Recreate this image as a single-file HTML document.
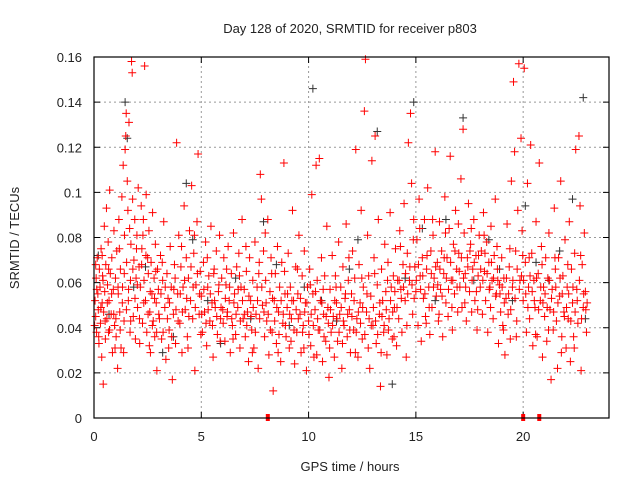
<!DOCTYPE html>
<html><head><meta charset="utf-8"><style>
body{margin:0;background:#fff;}
svg{display:block;font-family:"Liberation Sans",sans-serif;}
</style></head><body>
<svg id="chart" width="640" height="480">
<text x="350" y="33" font-size="13" text-anchor="middle" fill="#222">Day 128 of 2020, SRMTID for receiver p803</text>
<text x="350" y="471" font-size="13" text-anchor="middle" fill="#222">GPS time / hours</text>
<text transform="translate(19,238) rotate(-90)" font-size="13" text-anchor="middle" fill="#222">SRMTID / TECUs</text>
<g id="grid"></g>
<g id="ticks"></g>
<g id="pts"></g>
<rect x="94" y="57" width="515" height="361" fill="none" stroke="#000" stroke-width="1.2"/>
</svg>
<script>
const xTicks=[0,5,10,15,20];
const yTicks=[0,0.02,0.04,0.06,0.08,0.1,0.12,0.14,0.16];
const yTickLabels=["0","0.02","0.04","0.06","0.08","0.1","0.12","0.14","0.16"];
const gapMarks=[8.1,20.0,20.75];
const redPoints=[
[0.05,0.052],[0.08,0.045],[0.1,0.062],[0.12,0.038],[0.15,0.071],[0.18,0.055],[0.2,0.048],[0.23,0.033],[0.25,0.066],[0.28,0.058],[0.3,0.042],[0.33,0.075],[0.36,0.027],[0.38,0.051],[0.4,0.063],[0.43,0.015],[0.45,0.047],[0.48,0.085],[0.5,0.056],[0.53,0.035],[0.55,0.068],[0.58,0.093],[0.6,0.044],[0.63,0.059],[0.66,0.078],[0.68,0.038],[0.7,0.052],[0.73,0.101],[0.76,0.064],[0.8,0.046],[0.83,0.071],[0.86,0.029],[0.9,0.057],[0.93,0.083],[0.96,0.041],
[1.0,0.062],[1.03,0.036],[1.06,0.074],[1.1,0.022],[1.13,0.055],[1.16,0.088],[1.2,0.047],[1.23,0.066],[1.26,0.031],[1.3,0.098],[1.33,0.058],[1.36,0.112],[1.4,0.043],[1.42,0.081],[1.45,0.119],[1.48,0.125],[1.5,0.135],[1.52,0.069],[1.55,0.105],[1.58,0.092],[1.6,0.052],[1.63,0.131],[1.66,0.084],[1.7,0.061],[1.72,0.077],[1.75,0.158],[1.78,0.153],[1.8,0.097],[1.83,0.045],[1.86,0.07],[1.9,0.088],[1.93,0.035],[1.96,0.062],
[2.0,0.081],[2.03,0.049],[2.06,0.102],[2.1,0.067],[2.13,0.033],[2.16,0.058],[2.2,0.094],[2.23,0.075],[2.26,0.042],[2.3,0.088],[2.33,0.061],[2.36,0.156],[2.4,0.052],[2.43,0.099],[2.46,0.038],[2.5,0.071],[2.53,0.064],[2.56,0.083],[2.6,0.047],[2.63,0.029],[2.66,0.069],[2.7,0.055],[2.73,0.091],[2.76,0.043],[2.8,0.062],[2.83,0.036],[2.86,0.077],[2.9,0.051],[2.93,0.021],[2.96,0.066],
[3.0,0.057],[3.05,0.044],[3.1,0.072],[3.15,0.035],[3.2,0.061],[3.25,0.087],[3.3,0.049],[3.35,0.026],[3.4,0.064],[3.45,0.053],[3.5,0.039],[3.55,0.076],[3.6,0.058],[3.65,0.017],[3.7,0.046],[3.75,0.068],[3.8,0.033],[3.85,0.122],[3.9,0.055],[3.95,0.081],
[4.0,0.042],[4.05,0.067],[4.1,0.029],[4.15,0.058],[4.2,0.094],[4.25,0.048],[4.3,0.071],[4.35,0.036],[4.4,0.062],[4.45,0.083],[4.5,0.052],[4.55,0.103],[4.6,0.044],[4.65,0.073],[4.7,0.021],[4.75,0.059],[4.8,0.087],[4.85,0.117],[4.9,0.046],[4.95,0.065],
[5.0,0.054],[5.05,0.038],[5.1,0.069],[5.15,0.047],[5.2,0.078],[5.25,0.032],[5.3,0.058],[5.35,0.063],[5.4,0.043],[5.45,0.085],[5.5,0.051],[5.55,0.027],[5.6,0.066],[5.65,0.049],[5.7,0.074],[5.75,0.037],[5.8,0.056],[5.85,0.081],[5.9,0.044],[5.95,0.062],
[6.0,0.048],[6.05,0.071],[6.1,0.034],[6.15,0.059],[6.2,0.045],[6.25,0.076],[6.3,0.052],[6.35,0.029],[6.4,0.064],[6.45,0.041],[6.5,0.082],[6.55,0.055],[6.6,0.037],[6.65,0.067],[6.7,0.049],[6.75,0.073],[6.8,0.031],[6.85,0.058],[6.9,0.088],[6.95,0.044],
[7.0,0.057],[7.05,0.036],[7.1,0.065],[7.15,0.047],[7.2,0.025],[7.25,0.071],[7.3,0.052],[7.35,0.039],[7.4,0.061],[7.45,0.031],[7.5,0.078],[7.55,0.046],[7.6,0.058],[7.65,0.022],[7.7,0.069],[7.75,0.108],[7.8,0.097],[7.85,0.05],[7.9,0.074],[7.95,0.036],
[8.0,0.061],[8.05,0.043],[8.1,0.088],[8.15,0.028],[8.2,0.056],[8.25,0.071],[8.3,0.038],[8.35,0.012],[8.4,0.052],[8.45,0.064],[8.5,0.033],[8.55,0.076],[8.6,0.047],[8.65,0.058],[8.7,0.025],[8.75,0.069],[8.8,0.042],[8.85,0.113],[8.9,0.055],[8.95,0.036],
[9.0,0.049],[9.05,0.073],[9.1,0.031],[9.15,0.058],[9.2,0.044],[9.25,0.092],[9.3,0.052],[9.35,0.024],[9.4,0.067],[9.45,0.038],[9.5,0.055],[9.55,0.081],[9.6,0.046],[9.65,0.029],[9.7,0.063],[9.75,0.041],[9.8,0.074],[9.85,0.051],[9.9,0.021],[9.95,0.058],
[10.0,0.043],[10.05,0.066],[10.1,0.032],[10.15,0.099],[10.2,0.055],[10.25,0.027],[10.3,0.048],[10.35,0.112],[10.4,0.061],[10.45,0.039],[10.5,0.115],[10.55,0.052],[10.6,0.071],[10.65,0.025],[10.7,0.046],[10.75,0.063],[10.8,0.034],[10.85,0.085],[10.9,0.049],[10.95,0.018],
[11.0,0.057],[11.05,0.038],[11.1,0.072],[11.15,0.045],[11.2,0.027],[11.25,0.063],[11.3,0.051],[11.35,0.034],[11.4,0.078],[11.45,0.046],[11.5,0.058],[11.55,0.022],[11.6,0.067],[11.65,0.041],[11.7,0.053],[11.75,0.086],[11.8,0.036],[11.85,0.061],[11.9,0.048],[11.95,0.029],
[12.0,0.055],[12.05,0.074],[12.1,0.039],[12.15,0.062],[12.2,0.119],[12.25,0.044],[12.3,0.027],[12.35,0.068],[12.4,0.051],[12.45,0.092],[12.5,0.035],[12.55,0.058],[12.6,0.136],[12.65,0.159],[12.7,0.047],[12.75,0.081],[12.8,0.063],[12.85,0.022],[12.9,0.054],[12.95,0.114],
[13.0,0.041],[13.05,0.071],[13.1,0.125],[13.15,0.033],[13.2,0.059],[13.25,0.088],[13.3,0.046],[13.35,0.014],[13.4,0.066],[13.45,0.052],[13.5,0.038],[13.55,0.077],[13.6,0.056],[13.65,0.028],[13.7,0.069],[13.75,0.044],[13.8,0.091],[13.85,0.058],[13.9,0.035],[13.95,0.063],
[14.0,0.049],[14.05,0.075],[14.1,0.032],[14.15,0.061],[14.2,0.044],[14.25,0.083],[14.3,0.057],[14.35,0.038],[14.4,0.068],[14.45,0.095],[14.5,0.052],[14.55,0.027],[14.6,0.073],[14.65,0.122],[14.7,0.061],[14.75,0.135],[14.8,0.104],[14.85,0.046],[14.9,0.088],[14.95,0.067],
[15.0,0.056],[15.05,0.079],[15.1,0.041],[15.15,0.097],[15.2,0.063],[15.25,0.034],[15.3,0.071],[15.35,0.053],[15.4,0.088],[15.45,0.045],[15.5,0.066],[15.55,0.102],[15.6,0.058],[15.65,0.037],[15.7,0.074],[15.75,0.049],[15.8,0.081],[15.85,0.062],[15.9,0.118],[15.95,0.054],
[16.0,0.069],[16.05,0.043],[16.1,0.087],[16.15,0.057],[16.2,0.074],[16.25,0.036],[16.3,0.064],[16.35,0.098],[16.4,0.051],[16.45,0.071],[16.5,0.045],[16.55,0.084],[16.6,0.116],[16.65,0.061],[16.7,0.039],[16.75,0.077],[16.8,0.055],[16.85,0.092],[16.9,0.066],[16.95,0.047],
[17.0,0.073],[17.05,0.058],[17.1,0.106],[17.15,0.049],[17.2,0.128],[17.25,0.082],[17.3,0.064],[17.35,0.043],[17.4,0.071],[17.45,0.095],[17.5,0.056],[17.55,0.077],[17.6,0.047],[17.65,0.066],[17.7,0.088],[17.75,0.052],[17.8,0.072],[17.85,0.039],[17.9,0.063],[17.95,0.081],
[18.0,0.058],[18.05,0.074],[18.1,0.046],[18.15,0.091],[18.2,0.065],[18.25,0.052],[18.3,0.078],[18.35,0.038],[18.4,0.069],[18.45,0.058],[18.5,0.085],[18.55,0.061],[18.6,0.044],[18.65,0.072],[18.7,0.097],[18.75,0.055],[18.8,0.066],[18.85,0.033],[18.9,0.059],[18.95,0.047],
[19.0,0.071],[19.05,0.041],[19.1,0.062],[19.15,0.028],[19.2,0.053],[19.25,0.086],[19.3,0.046],[19.35,0.067],[19.4,0.035],[19.45,0.105],[19.5,0.058],[19.55,0.149],[19.6,0.118],[19.65,0.074],[19.7,0.043],[19.75,0.092],[19.8,0.157],[19.85,0.061],[19.9,0.124],[19.95,0.083],
[20.0,0.052],[20.05,0.155],[20.1,0.069],[20.15,0.038],[20.2,0.104],[20.25,0.058],[20.3,0.044],[20.35,0.121],[20.4,0.073],[20.45,0.032],[20.5,0.061],[20.55,0.049],[20.6,0.087],[20.65,0.036],[20.7,0.064],[20.75,0.113],[20.8,0.052],[20.85,0.076],[20.9,0.027],[20.95,0.058],
[21.0,0.045],[21.05,0.071],[21.1,0.034],[21.15,0.062],[21.2,0.082],[21.25,0.048],[21.3,0.017],[21.35,0.057],[21.4,0.039],[21.45,0.093],[21.5,0.066],[21.55,0.043],[21.6,0.022],[21.65,0.071],[21.7,0.054],[21.75,0.105],[21.8,0.036],[21.85,0.063],[21.9,0.047],[21.95,0.079],
[22.0,0.031],[22.05,0.058],[22.1,0.044],[22.15,0.087],[22.2,0.025],[22.25,0.066],[22.3,0.051],[22.35,0.036],[22.4,0.073],[22.45,0.119],[22.5,0.057],[22.55,0.042],[22.6,0.125],[22.65,0.094],[22.7,0.021],[22.75,0.068],[22.8,0.049],[22.85,0.082],[22.9,0.056],[22.95,0.038]
];
const redPointsDense=[
[0.03,0.041],[0.13,0.057],[0.22,0.036],[0.32,0.049],[0.42,0.061],[0.52,0.043],[0.62,0.051],[0.72,0.039],[0.82,0.055],[0.92,0.046],
[1.02,0.044],[1.12,0.058],[1.22,0.039],[1.32,0.051],[1.41,0.064],[1.51,0.048],[1.61,0.057],[1.71,0.043],[1.81,0.066],[1.91,0.053],
[2.02,0.059],[2.12,0.044],[2.22,0.068],[2.32,0.051],[2.42,0.072],[2.52,0.046],[2.62,0.056],[2.72,0.041],[2.82,0.053],[2.92,0.038],
[3.02,0.046],[3.12,0.055],[3.22,0.038],[3.32,0.058],[3.42,0.044],[3.52,0.051],[3.62,0.036],[3.72,0.057],[3.82,0.048],[3.92,0.043],
[4.02,0.055],[4.12,0.047],[4.22,0.061],[4.32,0.053],[4.42,0.045],[4.52,0.067],[4.62,0.058],[4.72,0.049],[4.82,0.064],[4.92,0.055],
[5.02,0.046],[5.12,0.057],[5.22,0.042],[5.32,0.048],[5.42,0.055],[5.52,0.041],[5.62,0.052],[5.72,0.045],[5.82,0.059],[5.92,0.049],
[6.02,0.042],[6.12,0.053],[6.22,0.047],[6.32,0.058],[6.42,0.044],[6.52,0.051],[6.62,0.046],[6.72,0.057],[6.82,0.043],[6.92,0.052],
[7.02,0.046],[7.12,0.041],[7.22,0.054],[7.32,0.045],[7.42,0.049],[7.52,0.038],[7.62,0.052],[7.72,0.044],[7.82,0.058],[7.92,0.047],
[8.02,0.051],[8.12,0.046],[8.22,0.039],[8.32,0.053],[8.42,0.043],[8.52,0.049],[8.62,0.037],[8.72,0.052],[8.82,0.046],[8.92,0.041],
[9.02,0.055],[9.12,0.046],[9.22,0.052],[9.32,0.039],[9.42,0.048],[9.52,0.044],[9.62,0.053],[9.72,0.038],[9.82,0.047],[9.92,0.051],
[10.02,0.037],[10.12,0.046],[10.22,0.041],[10.32,0.056],[10.42,0.044],[10.52,0.039],[10.62,0.051],[10.72,0.036],[10.82,0.045],[10.92,0.042],
[11.02,0.048],[11.12,0.041],[11.22,0.052],[11.32,0.044],[11.42,0.038],[11.52,0.049],[11.62,0.043],[11.72,0.055],[11.82,0.046],[11.92,0.039],
[12.02,0.045],[12.12,0.052],[12.22,0.038],[12.32,0.047],[12.42,0.042],[12.52,0.049],[12.62,0.037],[12.72,0.055],[12.82,0.044],[12.92,0.041],
[13.02,0.049],[13.12,0.043],[13.22,0.037],[13.32,0.051],[13.42,0.045],[13.52,0.041],[13.62,0.048],[13.72,0.039],[13.82,0.052],[13.92,0.047],
[14.02,0.056],[14.12,0.049],[14.22,0.061],[14.32,0.053],[14.42,0.058],[14.52,0.064],[14.62,0.055],[14.72,0.067],[14.82,0.059],[14.92,0.053],
[15.02,0.061],[15.12,0.068],[15.22,0.057],[15.32,0.063],[15.42,0.055],[15.52,0.072],[15.62,0.049],[15.72,0.064],[15.82,0.058],[15.92,0.067],
[16.02,0.059],[16.12,0.066],[16.22,0.054],[16.32,0.071],[16.42,0.062],[16.52,0.057],[16.62,0.069],[16.72,0.061],[16.82,0.074],[16.92,0.058],
[17.02,0.065],[17.12,0.071],[17.22,0.062],[17.32,0.058],[17.42,0.067],[17.52,0.074],[17.62,0.061],[17.72,0.069],[17.82,0.056],[17.92,0.072],
[18.02,0.066],[18.12,0.061],[18.22,0.073],[18.32,0.064],[18.42,0.057],[18.52,0.069],[18.62,0.062],[18.72,0.054],[18.82,0.061],[18.92,0.055],
[19.02,0.058],[19.12,0.051],[19.22,0.062],[19.32,0.055],[19.42,0.048],[19.52,0.061],[19.62,0.053],[19.72,0.066],[19.82,0.057],[19.92,0.063],
[20.02,0.061],[20.12,0.055],[20.22,0.049],[20.32,0.063],[20.42,0.056],[20.52,0.052],[20.62,0.062],[20.72,0.048],[20.82,0.058],[20.92,0.051],
[21.02,0.055],[21.12,0.049],[21.22,0.061],[21.32,0.053],[21.42,0.047],[21.52,0.058],[21.62,0.051],[21.72,0.062],[21.82,0.055],[21.92,0.045],
[22.02,0.049],[22.12,0.055],[22.22,0.043],[22.32,0.058],[22.42,0.047],[22.52,0.052],[22.62,0.061],[22.72,0.044],[22.82,0.055],[22.92,0.048],
[0.08,0.068],[0.38,0.072],[0.68,0.066],[0.98,0.031],[1.18,0.075],[1.38,0.029],[1.68,0.038],[1.98,0.075],[2.28,0.081],[2.58,0.032],[2.88,0.065],
[3.18,0.069],[3.48,0.031],[3.78,0.062],[4.08,0.076],[4.38,0.031],[4.68,0.081],[4.98,0.037],[5.28,0.071],[5.58,0.064],[5.88,0.034],
[6.18,0.066],[6.48,0.035],[6.78,0.063],[7.08,0.076],[7.38,0.029],[7.68,0.064],[7.98,0.082],[8.28,0.064],[8.58,0.029],[8.88,0.065],
[9.18,0.034],[9.48,0.066],[9.78,0.031],[10.08,0.059],[10.38,0.028],[10.68,0.057],[10.98,0.031],[11.28,0.058],[11.58,0.033],[11.88,0.071],
[12.18,0.029],[12.48,0.062],[12.78,0.031],[13.08,0.064],[13.38,0.029],[13.68,0.061],[13.98,0.036],[14.28,0.076],[14.58,0.041],[14.88,0.079],
[15.18,0.084],[15.48,0.042],[15.78,0.088],[16.08,0.046],[16.38,0.082],[16.68,0.049],[16.98,0.086],[17.28,0.051],[17.58,0.084],[17.88,0.048],
[18.18,0.081],[18.48,0.049],[18.78,0.076],[19.08,0.039],[19.38,0.075],[19.68,0.036],[19.98,0.072],[20.28,0.071],[20.58,0.037],[20.88,0.068],
[21.18,0.039],[21.48,0.071],[21.78,0.029],[22.08,0.068],[22.38,0.031],[22.68,0.072],[22.98,0.051]
];
const blackPoints=[
[0.2,0.072],[0.7,0.046],[1.45,0.14],[1.55,0.124],[1.85,0.058],[2.4,0.067],[3.2,0.029],[3.7,0.036],[4.3,0.104],[4.6,0.079],[5.3,0.052],[5.9,0.033],[6.6,0.062],[7.3,0.044],[7.9,0.087],[8.5,0.068],[9.1,0.041],[9.8,0.058],[10.2,0.146],[10.6,0.052],[11.3,0.043],[11.9,0.066],[12.3,0.079],[13.2,0.127],[13.9,0.015],[14.5,0.062],[14.9,0.14],[15.3,0.084],[15.9,0.052],[16.4,0.088],[17.2,0.133],[17.7,0.061],[18.4,0.079],[18.9,0.066],[19.5,0.052],[20.1,0.094],[20.6,0.069],[21.2,0.061],[21.7,0.074],[22.3,0.097],[22.8,0.142],[22.9,0.044]
];
const NS='http://www.w3.org/2000/svg';
const X0=94,X1=609,Y0=418,Y1=57;
function xs(h){return X0+(h/24)*(X1-X0);}
function ys(v){return Y0-(v/0.16)*(Y0-Y1);}
function mk(tag,attrs,parent){const e=document.createElementNS(NS,tag);for(const k in attrs)e.setAttribute(k,attrs[k]);parent.appendChild(e);return e;}
const grid=document.getElementById('grid'),ticks=document.getElementById('ticks'),pts=document.getElementById('pts');
xTicks.forEach(t=>{const x=xs(t);
 if(t>0){const g=mk('line',{x1:x,x2:x,y1:Y0,y2:Y1,stroke:'#999','stroke-dasharray':'2,3'},grid);
 
 }
 mk('line',{x1:x,x2:x,y1:Y0,y2:Y0-6,stroke:'#000'},ticks);mk('line',{x1:x,x2:x,y1:Y1,y2:Y1+6,stroke:'#000'},ticks);
 const l=mk('text',{x:x,y:Y0+23,'font-size':'13','text-anchor':'middle',fill:'#222'},ticks);l.textContent=t;
 
 });
yTicks.forEach((t,i)=>{const y=ys(t);
 if(i>0&&i<yTicks.length-1){const g=mk('line',{x1:X0,x2:X1,y1:y,y2:y,stroke:'#999','stroke-dasharray':'2,3'},grid);
 
 }
 mk('line',{x1:X0,x2:X0+6,y1:y,y2:y,stroke:'#000'},ticks);mk('line',{x1:X1,x2:X1-6,y1:y,y2:y,stroke:'#000'},ticks);
 const l=mk('text',{x:X0-12,y:y+5,'font-size':'13','text-anchor':'end',fill:'#222'},ticks);l.textContent=yTickLabels[i];
 
 });
function plus(h,v,col,name){const x=xs(h),y=ys(v);
 const p=mk('path',{d:`M${x-4},${y}H${x+4}M${x},${y-4}V${y+4}`,stroke:col,'stroke-width':'1',fill:'none'},pts);
 
 }
blackPoints.forEach(p=>plus(p[0],p[1],'#333','black-point'));
redPoints.forEach(p=>plus(p[0],p[1],'#f00','red-point'));
redPointsDense.forEach(p=>plus(p[0],p[1],'#f00','red-point'));
gapMarks.forEach(h=>{const r=mk('rect',{x:xs(h)-2,y:Y0-4,width:4,height:7,fill:'#f00'},pts);
 
 });
</script>
</body></html>
